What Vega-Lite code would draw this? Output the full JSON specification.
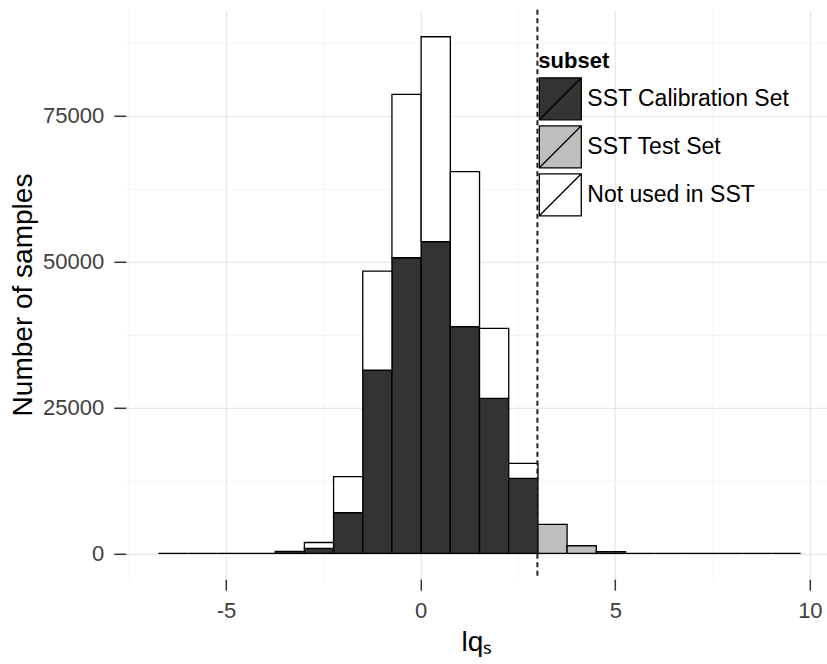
{
  "$schema": "https://vega.github.io/schema/vega-lite/v6.json",
  "autosize": {"type": "none"},
  "padding": {"left": 125.8, "top": 9.8, "right": 0, "bottom": 84.8},
  "width": 701.2,
  "height": 569.4,
  "background": "white",
  "layer": [
    {
      "data": {
        "values": [
          {"bin_start": -6.75, "bin_end": -6.0, "subset": "Not used in SST", "count": 0},
          {"bin_start": -6.0, "bin_end": -5.25, "subset": "Not used in SST", "count": 0},
          {"bin_start": -5.25, "bin_end": -4.5, "subset": "Not used in SST", "count": 0},
          {"bin_start": -4.5, "bin_end": -3.75, "subset": "Not used in SST", "count": 0},
          {"bin_start": -3.75, "bin_end": -3.0, "subset": "SST Calibration Set", "count": 350},
          {"bin_start": -3.0, "bin_end": -2.25, "subset": "SST Calibration Set", "count": 850},
          {"bin_start": -2.25, "bin_end": -1.5, "subset": "SST Calibration Set", "count": 6960},
          {"bin_start": -1.5, "bin_end": -0.75, "subset": "SST Calibration Set", "count": 31400},
          {"bin_start": -0.75, "bin_end": 0.0, "subset": "SST Calibration Set", "count": 50650},
          {"bin_start": 0.0, "bin_end": 0.75, "subset": "SST Calibration Set", "count": 53400},
          {"bin_start": 0.75, "bin_end": 1.5, "subset": "SST Calibration Set", "count": 38830},
          {"bin_start": 1.5, "bin_end": 2.25, "subset": "SST Calibration Set", "count": 26560},
          {"bin_start": 2.25, "bin_end": 3.0, "subset": "SST Calibration Set", "count": 12850},
          {"bin_start": -3.0, "bin_end": -2.25, "subset": "Not used in SST", "count": 1000},
          {"bin_start": -2.25, "bin_end": -1.5, "subset": "Not used in SST", "count": 6170},
          {"bin_start": -1.5, "bin_end": -0.75, "subset": "Not used in SST", "count": 16970},
          {"bin_start": -0.75, "bin_end": 0.0, "subset": "Not used in SST", "count": 28000},
          {"bin_start": 0.0, "bin_end": 0.75, "subset": "Not used in SST", "count": 35120},
          {"bin_start": 0.75, "bin_end": 1.5, "subset": "Not used in SST", "count": 26560},
          {"bin_start": 1.5, "bin_end": 2.25, "subset": "Not used in SST", "count": 11990},
          {"bin_start": 2.25, "bin_end": 3.0, "subset": "Not used in SST", "count": 2570},
          {"bin_start": 3.0, "bin_end": 3.75, "subset": "SST Test Set", "count": 4970},
          {"bin_start": 3.75, "bin_end": 4.5, "subset": "SST Test Set", "count": 1300},
          {"bin_start": 4.5, "bin_end": 5.25, "subset": "SST Test Set", "count": 270},
          {"bin_start": 5.25, "bin_end": 6.0, "subset": "Not used in SST", "count": 0},
          {"bin_start": 6.0, "bin_end": 6.75, "subset": "Not used in SST", "count": 0},
          {"bin_start": 6.75, "bin_end": 7.5, "subset": "Not used in SST", "count": 0},
          {"bin_start": 7.5, "bin_end": 8.25, "subset": "Not used in SST", "count": 0},
          {"bin_start": 8.25, "bin_end": 9.0, "subset": "Not used in SST", "count": 0},
          {"bin_start": 9.0, "bin_end": 9.75, "subset": "Not used in SST", "count": 0}
        ]
      },
      "mark": {"type": "bar", "stroke": "black", "strokeWidth": 1.3, "opacity": 1, "binSpacing": 0},
      "encoding": {
        "x": {
          "field": "bin_start",
          "type": "quantitative",
          "bin": "binned",
          "scale": {"domain": [-7.575, 10.44], "nice": false, "zero": false},
          "axis": {
            "values": [-7.5, -5, -2.5, 0, 2.5, 5, 7.5, 10],
            "labelExpr": "datum.value % 5 == 0 ? '' + datum.value : ''",
            "grid": true,
            "tickOpacity": {"condition": {"test": "datum.value % 5 != 0", "value": 0}, "value": 1},
            "gridColor": {"condition": {"test": "datum.value % 5 != 0", "value": "#F5F5F5"}, "value": "#E6E6E6"},
            "gridWidth": 1.2,
            "domain": false,
            "tickSize": 11,
            "tickWidth": 1.5,
            "tickColor": "#333333",
            "labelPadding": 10,
            "labelFontSize": 22,
            "labelColor": "#404040",
            "labelFlush": false,
            "title": "lqₛ",
            "titleFontSize": 28,
            "titleFontWeight": "normal",
            "titleColor": "#000000",
            "titleY": 49
          }
        },
        "x2": {"field": "bin_end"},
        "y": {
          "field": "count",
          "type": "quantitative",
          "stack": "zero",
          "scale": {"domain": [-4435, 93135], "nice": false, "zero": false},
          "axis": {
            "values": [0, 12500, 25000, 37500, 50000, 62500, 75000, 87500],
            "format": "d",
            "labelExpr": "datum.value % 25000 == 0 ? datum.label : ''",
            "grid": true,
            "tickOpacity": {"condition": {"test": "datum.value % 25000 != 0", "value": 0}, "value": 1},
            "gridColor": {"condition": {"test": "datum.value % 25000 != 0", "value": "#F5F5F5"}, "value": "#E6E6E6"},
            "gridWidth": 1.2,
            "domain": false,
            "tickSize": 12,
            "tickWidth": 1.5,
            "tickColor": "#333333",
            "labelPadding": 10,
            "labelFontSize": 22,
            "labelColor": "#404040",
            "labelFlush": false,
            "title": "Number of samples",
            "titleFontSize": 28,
            "titleFontWeight": "normal",
            "titleColor": "#000000",
            "titleX": -88,
            "titleY": 284.7
          }
        },
        "fill": {
          "field": "subset",
          "type": "nominal",
          "sort": ["SST Calibration Set", "SST Test Set", "Not used in SST"],
          "scale": {
            "domain": ["SST Calibration Set", "SST Test Set", "Not used in SST"],
            "range": ["#333333", "#BEBEBE", "#FFFFFF"]
          },
          "legend": {
            "orient": "none",
            "legendX": 412.5,
            "legendY": 41,
            "title": "subset",
            "titleFontSize": 22,
            "titleFontWeight": "bold",
            "titleColor": "#000000",
            "titlePadding": 4,
            "labelFontSize": 23,
            "labelColor": "#000000",
            "labelOffset": 5,
            "labelLimit": 0,
            "symbolType": "M-1,-1H1V1H-1Z M-1,1L1,-1",
            "symbolSize": 1764,
            "symbolStrokeColor": "#000000",
            "symbolStrokeWidth": 1.3,
            "symbolOpacity": 1,
            "rowPadding": 0,
            "padding": 0
          }
        }
      }
    },
    {
      "data": {"values": [{"threshold": 3}]},
      "mark": {"type": "rule", "strokeDash": [5, 3.5], "strokeWidth": 2, "color": "#222222"},
      "encoding": {"x": {"field": "threshold", "type": "quantitative"}}
    }
  ],
  "config": {
    "font": "Liberation Sans",
    "view": {"stroke": null}
  }
}
